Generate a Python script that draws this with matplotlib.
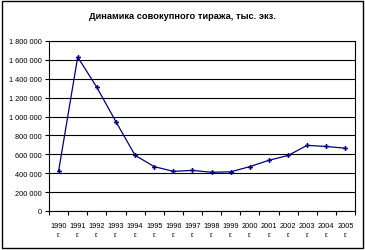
import matplotlib
matplotlib.use("Agg")
import matplotlib.pyplot as plt
from matplotlib.patches import Rectangle

years = ["1990", "1991", "1992", "1993", "1994", "1995", "1996", "1997",
         "1998", "1999", "2000", "2001", "2002", "2003", "2004", "2005"]
values = [420000, 1630000, 1310000, 945000, 590000, 470000, 420000, 430000,
          410000, 415000, 470000, 537000, 588000, 695000, 683000, 665000]
yticks = [0, 200000, 400000, 600000, 800000, 1000000, 1200000, 1400000, 1600000, 1800000]
title = "Динамика совокупного тиража, тыс. экз."

plt.rcParams['font.family'] = ['Liberation Sans', 'DejaVu Sans']

fig = plt.figure(figsize=(3.65, 2.51), dpi=100)
ax = fig.add_axes([49/365, 1-212/251, (355-49)/365, (212-42)/251])

x = list(range(len(years)))
ax.plot(x, values, color='#000080', linewidth=0.9, marker='P', markersize=3.5,
        markeredgewidth=0, markerfacecolor='#000080')

ax.set_xlim(-0.5, len(years) - 0.5)
ax.set_ylim(0, 1800000)
ax.set_yticks(yticks)
ax.set_yticklabels([f"{v:,}".replace(",", " ") for v in yticks], fontsize=5.3)
ax.set_xticks([i - 0.5 for i in range(len(years) + 1)])
ax.set_xticklabels([])
ax.set_xticks(x, minor=True)
ax.set_xticklabels([y + "\nг." for y in years], minor=True, fontsize=5.3, linespacing=1.45)
ax.tick_params(axis='x', which='minor', length=0, pad=8)
ax.tick_params(axis='x', which='major', length=3, width=0.8, direction='out')
ax.tick_params(axis='y', length=3, width=0.8, direction='out', pad=2)
ax.grid(axis='y', color='black', linewidth=0.8)
ax.set_axisbelow(True)
for s in ax.spines.values():
    s.set_color('black')
    s.set_linewidth(0.8)

fig.text(0.5, 1-17/251, title, ha='center', va='center', fontsize=6.7, fontweight='bold')
fig.patches.append(Rectangle((2/365, 2/251), 361/365, 247/251, transform=fig.transFigure,
                             fill=False, edgecolor='black', linewidth=1))

fig.savefig("out.png", dpi=100)
